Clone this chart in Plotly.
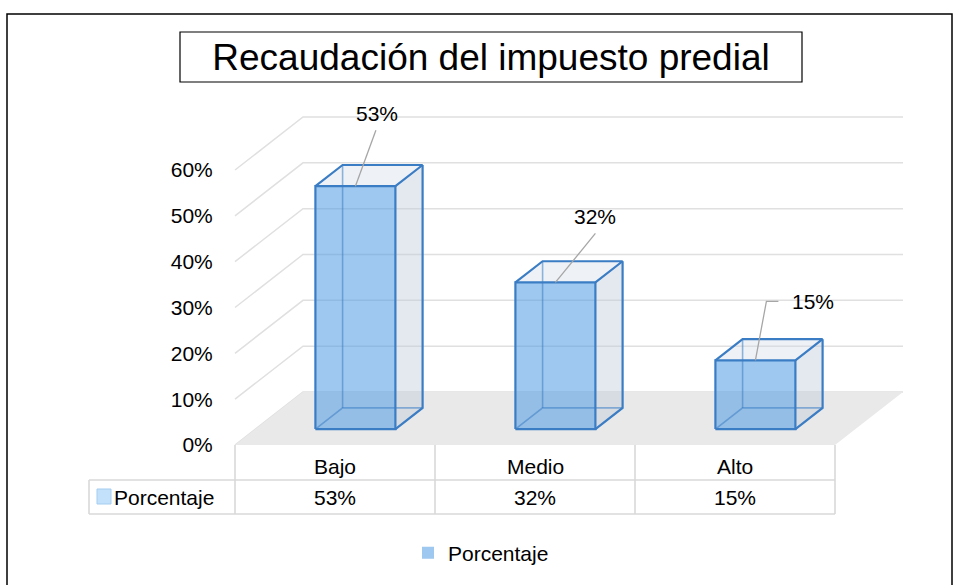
import plotly.graph_objects as go

# ---------------- data ----------------
categories = ["Bajo", "Medio", "Alto"]
values = [53, 32, 15]                       # Porcentaje (%)
value_labels = ["53%", "32%", "15%"]
series_name = "Porcentaje"
y_ticks = [0, 10, 20, 30, 40, 50, 60]
y_tick_labels = ["0%", "10%", "20%", "30%", "40%", "50%", "60%"]
title_text = "Recaudación del impuesto predial"

# ---------------- style / geometry ----------------
W, H = 959, 585
PL, PR, PT, PB = 80, 925, 95, 525           # plot area in px
X_RANGE = [-1.275, 2.95]
Y_RANGE = [-17.455, 76.364]
DX, DY = 0.34, 11.56                        # oblique depth (x in category units, y in value units)
BAR_W = 0.4
F_FRONT, F_BACK = 0.3, 0.7
FONT = "Arial, 'Liberation Sans', sans-serif"
FS = 21
EDGE = "#3B7DC4"
HIDDEN_EDGE = "rgba(59,125,196,0.55)"
FRONT_FILL = "rgba(80,155,228,0.55)"
SIDE_FILL = "rgba(190,202,216,0.42)"
TOP_FILL = "rgba(205,216,228,0.35)"
GRID = "#e0e0e0"
FLOOR = "#e9e9e9"
TABLE_LINE = "#d9d9d9"
LEADER = "#a6a6a6"
# label offsets in px relative to the top-front-centre of each bar
LABEL_SHIFT = [(22, 73), (40, 66), (58, 59)]
LEADER_PATHS = ["M0,0 L20.5,56", "M0,0 L40,49", "M0,0 L11,59 L23,59"]


def px_x(p):
    return (p - PL) / (PR - PL)


def px_y(p):
    return (PB - p) / (PB - PT)


n = len(categories)
idx = list(range(n))

fig = go.Figure()

# front faces (real bars)
fig.add_trace(go.Bar(
    x=idx, y=values, base=F_FRONT * DY, width=BAR_W,
    offset=-BAR_W / 2 + F_FRONT * DX,
    marker=dict(color=FRONT_FILL, line=dict(width=0)),
    name=series_name, showlegend=True, hoverinfo="skip",
))

edge_x, edge_y, hid_x, hid_y = [], [], [], []
for i, v in zip(idx, values):
    xl1 = i - BAR_W / 2 + F_FRONT * DX
    xr1 = xl1 + BAR_W
    yb1 = F_FRONT * DY
    yt1 = v + yb1
    xl2 = i - BAR_W / 2 + F_BACK * DX
    xr2 = xl2 + BAR_W
    yb2 = F_BACK * DY
    yt2 = v + yb2
    # right side face
    fig.add_trace(go.Scatter(
        x=[xr1, xr2, xr2, xr1, xr1], y=[yb1, yb2, yt2, yt1, yb1],
        fill="toself", fillcolor=SIDE_FILL, mode="lines",
        line=dict(width=0), showlegend=False, hoverinfo="skip"))
    # top face
    fig.add_trace(go.Scatter(
        x=[xl1, xr1, xr2, xl2, xl1], y=[yt1, yt1, yt2, yt2, yt1],
        fill="toself", fillcolor=TOP_FILL, mode="lines",
        line=dict(width=0), showlegend=False, hoverinfo="skip"))
    # hidden edges (seen through the transparent faces)
    hid_x += [xl1, xl2, xr2, None, xl2, xl2, None]
    hid_y += [yb1, yb2, yb2, None, yb2, yt2, None]
    # visible edges
    edge_x += [xl1, xr1, xr1, xl1, xl1, None,
               xl1, xl2, xr2, xr1, None,
               xr2, xr2, xr1, None]
    edge_y += [yb1, yb1, yt1, yt1, yb1, None,
               yt1, yt2, yt2, yt1, None,
               yt2, yb2, yb1, None]

fig.add_trace(go.Scatter(x=hid_x, y=hid_y, mode="lines",
                         line=dict(color=HIDDEN_EDGE, width=1.6),
                         showlegend=False, hoverinfo="skip"))
fig.add_trace(go.Scatter(x=edge_x, y=edge_y, mode="lines",
                         line=dict(color=EDGE, width=2.2),
                         showlegend=False, hoverinfo="skip"))

shapes = []
x_lo, x_hi = -0.5, n - 0.5
# gridlines: left wall (oblique) + back wall (horizontal)
for t in y_ticks:
    shapes.append(dict(
        type="path", xref="x", yref="y", layer="below",
        path=f"M{x_lo},{t} L{x_lo + DX},{t + DY} L{x_hi + DX},{t + DY}",
        line=dict(color=GRID, width=1.5)))
# floor
shapes.append(dict(
    type="path", xref="x", yref="y", layer="below",
    path=f"M{x_lo},0 L{x_lo + DX},{DY} L{x_hi + DX},{DY} L{x_hi},0 Z",
    fillcolor=FLOOR, line=dict(width=0)))

# data labels leader lines
for i, v, p in zip(idx, values, LEADER_PATHS):
    shapes.append(dict(
        type="path", xref="x", yref="y", xsizemode="pixel", ysizemode="pixel",
        xanchor=i + F_FRONT * DX, yanchor=v + F_FRONT * DY, path=p,
        line=dict(color=LEADER, width=1.3)))

# data table
row_top, row_mid, row_bot = px_y(445), px_y(480), px_y(514)
label_left = px_x(89)
for b in [x_lo + k for k in range(n + 1)]:
    shapes.append(dict(type="line", xref="x", yref="paper", x0=b, x1=b,
                       y0=row_top, y1=row_bot, line=dict(color=TABLE_LINE, width=1.6)))
for yy in [row_mid, row_bot]:
    shapes.append(dict(type="line", xref="paper", yref="paper", x0=label_left,
                       x1=px_x(235 + 200 * n), y0=yy, y1=yy,
                       line=dict(color=TABLE_LINE, width=1.6)))
shapes.append(dict(type="line", xref="paper", yref="paper", x0=label_left, x1=label_left,
                   y0=row_mid, y1=row_bot, line=dict(color=TABLE_LINE, width=1.6)))
# legend key inside the table
shapes.append(dict(type="rect", xref="paper", yref="paper",
                   x0=px_x(97), x1=px_x(111), y0=px_y(504), y1=px_y(489),
                   fillcolor="#c3e1fa", line=dict(color="#a3cdf0", width=1)))
# title box
shapes.append(dict(type="rect", xref="paper", yref="paper",
                   x0=px_x(180), x1=px_x(802), y0=px_y(82), y1=px_y(32),
                   line=dict(color="black", width=1.2)))
# outer chart border
shapes.append(dict(type="rect", xref="paper", yref="paper",
                   x0=px_x(7), x1=px_x(952), y0=px_y(600), y1=px_y(14),
                   line=dict(color="black", width=1.5)))

annotations = []
for i, v, lab, (sx, sy) in zip(idx, values, value_labels, LABEL_SHIFT):
    annotations.append(dict(x=i + F_FRONT * DX, y=v + F_FRONT * DY, xref="x", yref="y",
                            text=lab, showarrow=False, xshift=sx, yshift=sy,
                            xanchor="center", yanchor="middle",
                            font=dict(size=FS, color="#000000", family=FONT)))
for i, c, lab in zip(idx, categories, value_labels):
    annotations.append(dict(x=i, y=px_y(466), xref="x", yref="paper", text=c,
                            showarrow=False, xanchor="center", yanchor="middle",
                            font=dict(size=FS, color="#000", family=FONT)))
    annotations.append(dict(x=i, y=px_y(497), xref="x", yref="paper", text=lab,
                            showarrow=False, xanchor="center", yanchor="middle",
                            font=dict(size=FS, color="#000", family=FONT)))
annotations.append(dict(x=px_x(112), y=px_y(497), xref="paper", yref="paper",
                        text=series_name, showarrow=False, xanchor="left",
                        yanchor="middle",
                        font=dict(size=FS, color="#000", family=FONT)))

fig.update_layout(
    width=W, height=H,
    margin=dict(l=PL, r=W - PR, t=PT, b=H - PB),
    paper_bgcolor="white", plot_bgcolor="rgba(0,0,0,0)",
    title=dict(text=title_text, x=px_x(491), xref="paper", xanchor="center",
               y=1 - 57 / H, yref="container", yanchor="middle",
               font=dict(size=37, color="#000", family=FONT)),
    xaxis=dict(range=X_RANGE, visible=False, fixedrange=True),
    yaxis=dict(range=Y_RANGE, anchor="free", position=px_x(235),
               tickvals=y_ticks, ticktext=y_tick_labels, ticks="outside",
               ticklen=18, tickcolor="rgba(0,0,0,0)", showgrid=False,
               zeroline=False, showline=False, fixedrange=True,
               tickfont=dict(size=FS, color="#000", family=FONT)),
    showlegend=True,
    legend=dict(orientation="h", x=px_x(408), xanchor="left", y=px_y(553),
                yanchor="middle", font=dict(size=FS, color="#000", family=FONT),
                bgcolor="rgba(0,0,0,0)"),
    shapes=shapes, annotations=annotations, hovermode=False,
)

fig.write_html("out.html", config={"displayModeBar": False},
               post_script="document.body.style.margin='0';")
